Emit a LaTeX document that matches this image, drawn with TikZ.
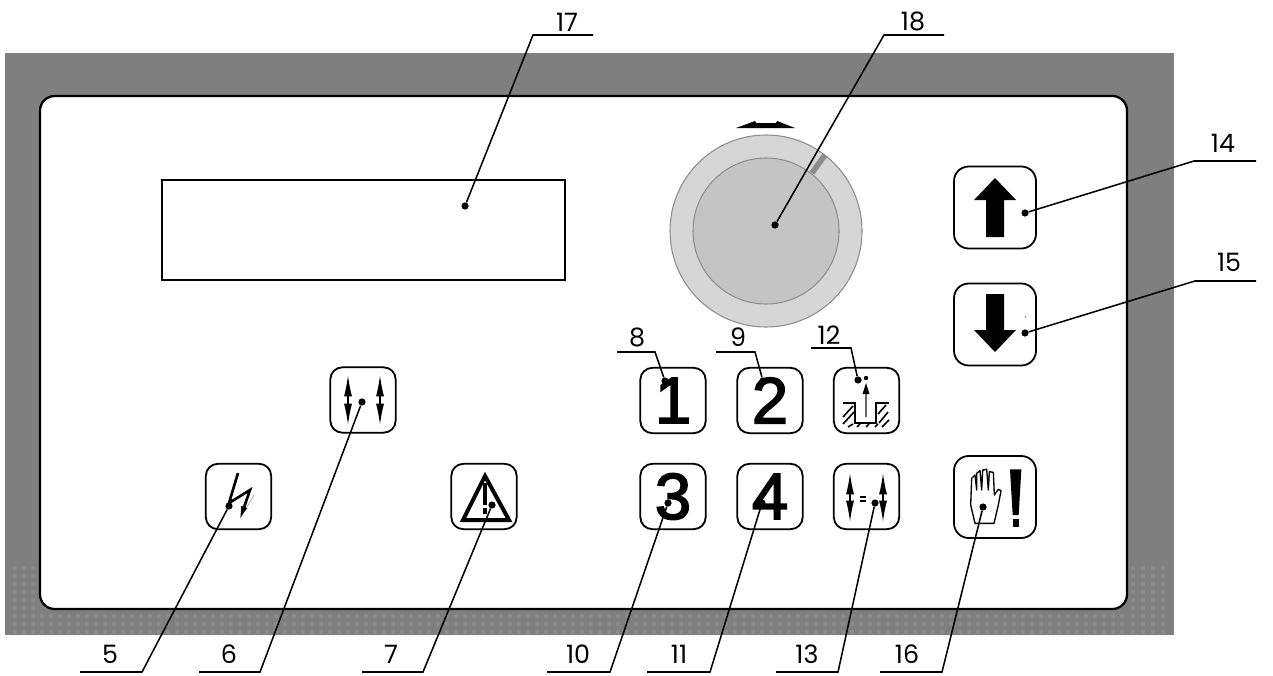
\documentclass[tikz,border=0pt]{standalone}
\usepackage{fontspec}
\setmainfont{Poppins}
\newfontfamily\keyfont[RawFeature={embolden=2.4}]{Liberation Sans}
\definecolor{panelgray}{HTML}{7F7F7F}
\definecolor{paneldot}{HTML}{8A8A8A}
\definecolor{knobgray}{HTML}{C4C4C4}
\definecolor{knobrim}{HTML}{8E8E8E}
\definecolor{ringlight}{HTML}{ECECEC}
\definecolor{ringinner}{HTML}{D6D6D6}
\definecolor{ringedge}{HTML}{C6C6C6}
\usetikzlibrary{arrows.meta, calc, positioning}
\pgfdeclareradialshading{knobring}{\pgfpoint{0bp}{0bp}}{color(0bp)=(ringinner); color(38bp)=(ringinner); color(44bp)=(ringlight); color(50bp)=(ringedge)}
\tikzset{
	keybox/.style={draw, line width=1.35pt, rounded corners=9pt, fill=white, minimum size=49pt, inner sep=0pt},
	bigbox/.style={keybox, rounded corners=11pt, minimum size=61.5pt},
	keydigit/.style={font=\keyfont\fontsize{49}{49}\selectfont},
	numlab/.style={font=\fontsize{19}{19}\selectfont, inner sep=0pt},
	tip/.style={circle, fill=black, minimum size=5.4pt, inner sep=0pt},
	leader/.style={line width=1.15pt},
	twoway/.style={line width=1.1pt, {Latex[length=16pt,width=6pt]}-{Latex[length=16pt,width=6pt]}},
	dotrow/.style={paneldot, line width=2.4pt, dash pattern=on 3pt off 3pt},
}
\begin{document}
\begin{tikzpicture}[x=0.75pt,y=-0.75pt]
	\useasboundingbox (0,0) rectangle (1273,675);

	% housing and its dotted bottom edge
	\fill[panelgray] (5,53) rectangle (1174,635);
	\foreach \i in {0,...,120}
		\draw[dotrow] (42+9*\i,614) -- (42+9*\i,634);
	\foreach \i in {0,1,2}
		\draw[dotrow] (15+9*\i,566) -- (15+9*\i,634);
	\foreach \i in {0,...,3}
		\draw[dotrow] (1133+10*\i,566) -- (1133+10*\i,634);
	\draw[fill=white, line width=1.7pt, rounded corners=11pt] (40,96) rectangle (1127,609);

	% display
	\node[draw, line width=1.2pt, minimum width=302pt, minimum height=75pt, inner sep=0pt] (display) at (363.5,230) {};

	% knob
	\fill[shading=knobring] (766,231) circle [radius=72pt];
	\draw[knobrim, line width=.8pt] (766,231) circle [radius=72pt];
	\draw[gray!90, line width=4.2pt] (812,173) -- (825,155);
	\draw[knobrim, fill=knobgray, line width=.8pt] (766,231) circle [radius=54.75pt];
	\fill (736,128) -- (755,121) -- (756,123) -- (776,123) -- (777,121) -- (795,128) -- cycle;

	% keys
	\node[keybox, keydigit] (key1) at (673,400.5) {1};
	\node[keybox, keydigit] (key2) at (770,400.5) {2};
	\node[keybox] (key12) at (866.5,400.5) {};
	\node[keybox, keydigit] (key3) at (673,496.5) {3};
	\node[keybox, keydigit] (key4) at (770,496.5) {4};
	\node[keybox] (key13) at (866.5,496.5) {};
	\node[keybox] (key6) at (363,400) {};
	\node[keybox] (key5) at (238.5,496.5) {};
	\node[keybox] (key7) at (484,496.5) {};
	\node[bigbox] (key14) at (995,207.5) {};
	\node[bigbox] (key15) at (995,324.5) {};
	\node[bigbox] (key16) at (995,497) {};

	% key symbols
	\draw[twoway] (348,375) -- (348,425);
	\draw[twoway] (380,375) -- (380,425);
	\draw[twoway] (850,473) -- (850,522);
	\draw[twoway] (883,473) -- (883,522);
	\draw[line width=.9pt] (860,497) -- (866,497) (860,501) -- (866,501);
	\draw[gray!70, line width=.5pt] (254,495) -- (247,507);
	\draw[line width=2pt, -{Latex[length=12pt,width=5pt]}] (238,473) -- (229,503) -- (250,490) -- (239,522);
	\draw[line width=3pt, line join=miter] (485,476) -- (463,520) -- (509,520) -- cycle;
	\draw[line width=3pt] (485,483) -- (485,505);
	\fill (483,508) rectangle (487,514);
	\fill (995,178) -- (1016,200) -- (1004,200) -- (1004,237) -- (986,237) -- (986,200) -- (974,200) -- cycle;
	\fill (995,352) -- (1016,330) -- (1004,330) -- (1004,294) -- (986,294) -- (986,330) -- (974,330) -- cycle;
	\fill[gray] (1025.5,317) circle [radius=.8];

	% well symbol of key 12
	\draw[gray!80!black, line width=.8pt] (866,417) -- (866,392);
	\fill (866,383) -- (869.5,394) -- (862.5,394) -- cycle;
	\fill (866,378) circle [radius=2.2];
	\draw[line width=1.5pt] (843,403) -- (855,403) -- (855,422.5) -- (876,422.5) -- (876,403) -- (889,403);
	\draw[line width=1.2pt] (843,417) -- (853,406) (843,424) -- (854,412) (878,414) -- (886,405)
		(848,427) -- (853,424) (857,427) -- (860,424) (866,427) -- (869,424) (875,427) -- (878,424)
		(879,423) -- (888,412) (882,427) -- (889,420);

	% hand and exclamation mark
	\begin{scope}[shift={(930,440)}, x=.25pt, y=-.25pt]
		\draw[line width=1pt, line join=round] (135,250) -- (122,195) -- (125,115) -- (135,105) -- (140,150) -- (140,100) -- (150,92) -- (155,150)
			-- (158,90) -- (170,88) -- (175,150) -- (178,95) -- (190,97) -- (193,165) -- (205,148) -- (213,152) -- (205,195) -- (192,250) -- cycle;
		\fill (240,88) -- (274,88) -- (266,225) -- (248,225) -- cycle;
		\fill (248,238) rectangle (268,262);
	\end{scope}

	% leaders, top
	\node[numlab] (lab17) at (567,22) {17};
	\coordinate (ua17) at (533,35);
	\coordinate (ub17) at (593,35);
	\node[tip] (tip17) at (465,206) {};
	\draw[leader] (ub17) -- (ua17) -- (tip17);

	\node[numlab] (lab18) at (913,21) {18};
	\coordinate (ua18) at (884,35);
	\coordinate (ub18) at (944,35);
	\node[tip] (tip18) at (775,225) {};
	\draw[leader] (ub18) -- (ua18) -- (tip18);

	\node[numlab] (lab14) at (1223,143) {14};
	\coordinate (ua14) at (1194,161);
	\coordinate (ub14) at (1256,161);
	\node[tip] (tip14) at (1025,213) {};
	\draw[leader] (ub14) -- (ua14) -- (tip14);

	\node[numlab] (lab15) at (1229,262) {15};
	\coordinate (ua15) at (1195,281);
	\coordinate (ub15) at (1256,281);
	\node[tip] (tip15) at (1025,333) {};
	\draw[leader] (ub15) -- (ua15) -- (tip15);

	\node[numlab] (lab8) at (637,337) {8};
	\coordinate (ua8) at (617,352);
	\coordinate (ub8) at (655,352);
	\node[tip] (tip8) at (665,381) {};
	\draw[leader] (ua8) -- (ub8) -- (tip8);

	\node[numlab] (lab9) at (738,337) {9};
	\coordinate (ua9) at (716,352);
	\coordinate (ub9) at (755,352);
	\node[tip] (tip9) at (763,381) {};
	\draw[leader] (ua9) -- (ub9) -- (tip9);

	\node[numlab] (lab12) at (829,335) {12};
	\coordinate (ua12) at (811,348);
	\coordinate (ub12) at (851,348);
	\node[tip] (tip12) at (858,380) {};
	\draw[leader] (ua12) -- (ub12) -- (tip12);

	% leaders, bottom
	\node[numlab] (lab5) at (110,654) {5};
	\coordinate (ua5) at (80,672);
	\coordinate (ub5) at (142,672);
	\node[tip] (tip5) at (229,506) {};
	\draw[leader] (ua5) -- (ub5) -- (tip5);

	\node[numlab] (lab6) at (229,654) {6};
	\coordinate (ua6) at (199,672);
	\coordinate (ub6) at (260,672);
	\node[tip] (tip6) at (362,402) {};
	\draw[leader] (ua6) -- (ub6) -- (tip6);

	\node[numlab] (lab7) at (391,654) {7};
	\coordinate (ua7) at (362,672);
	\coordinate (ub7) at (423,672);
	\node[tip] (tip7) at (492,505) {};
	\draw[leader] (ua7) -- (ub7) -- (tip7);

	\node[numlab] (lab10) at (578,654) {10};
	\coordinate (ua10) at (547,672);
	\coordinate (ub10) at (610,672);
	\node[tip] (tip10) at (668,503) {};
	\draw[leader] (ua10) -- (ub10) -- (tip10);

	\node[numlab] (lab11) at (679,654) {11};
	\coordinate (ua11) at (647,672);
	\coordinate (ub11) at (710,672);
	\node[tip] (tip11) at (762,503) {};
	\draw[leader] (ua11) -- (ub11) -- (tip11);

	\node[numlab] (lab13) at (807,654) {13};
	\coordinate (ua13) at (776,672);
	\coordinate (ub13) at (838,672);
	\node[tip] (tip13) at (875,503) {};
	\draw[leader] (ua13) -- (ub13) -- (tip13);

	\node[numlab] (lab16) at (907,654) {16};
	\coordinate (ua16) at (880,672);
	\coordinate (ub16) at (942,672);
	\node[tip] (tip16) at (983,507) {};
	\draw[leader] (ua16) -- (ub16) -- (tip16);
\end{tikzpicture}
\end{document}
